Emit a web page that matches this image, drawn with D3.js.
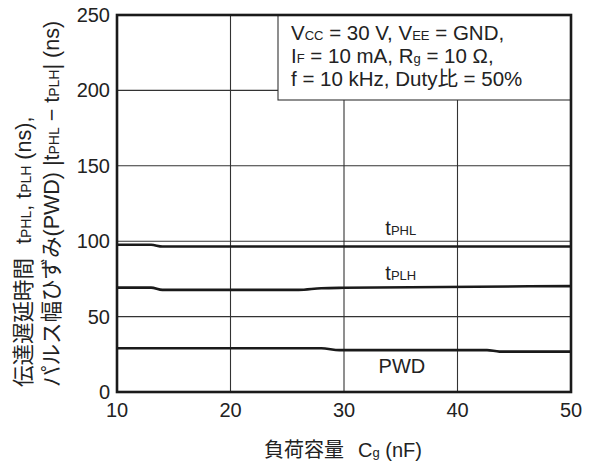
<!DOCTYPE html>
<html>
<head>
<meta charset="utf-8">
<style>
body { margin: 0; background: #fff; }
text { font-family: "Liberation Sans", Arial, "Noto Sans CJK JP", sans-serif; fill: #222; }
</style>
</head>
<body></body>
<script src="https://cdn.jsdelivr.net/npm/d3@7"></script>
<script>

// values
var tPHL = [[10, 97.6], [13, 97.6], [14, 96.5], [50, 96.5]];
var tPLH = [[10, 69.2], [13, 69.2], [14, 67.7], [26, 67.7], [28, 68.8], [30, 69.1], [50, 70.2]];
var PWD  = [[10, 29.0], [28, 29.0], [29.6, 27.8], [42.6, 27.8], [43.7, 26.8], [50, 26.8]];

var xTicks = [10, 20, 30, 40, 50];
var yTicks = [0, 50, 100, 150, 200, 250];

var W = 592, H = 468;
var pL = 117, pR = 571, pT = 15, pB = 392;

var svg = d3.select("body").append("svg")
    .attr("width", W).attr("height", H);

var x = d3.scaleLinear().domain([10, 50]).range([pL, pR]);
var y = d3.scaleLinear().domain([0, 250]).range([pB, pT]);

// text made of [string, small, dx] pieces, small ones sit on the baseline
function rich(g, parts, big, small) {
    parts.forEach(function(p) {
        g.append("tspan").text(p[0]).attr("font-size", p[1] ? small : big)
            .attr("dx", p[2] || null);
    });
    return g;
}

// grid
svg.append("g").selectAll("line").data(xTicks.slice(1, -1)).enter().append("line")
    .attr("x1", d => x(d)).attr("x2", d => x(d))
    .attr("y1", pT).attr("y2", pB)
    .attr("stroke", "#333").attr("stroke-width", 1.1);
svg.append("g").selectAll("line").data(yTicks.slice(1, -1)).enter().append("line")
    .attr("x1", pL).attr("x2", pR)
    .attr("y1", d => y(d)).attr("y2", d => y(d))
    .attr("stroke", "#333").attr("stroke-width", 1.1);

// tick labels
svg.append("g").selectAll("text").data(yTicks).enter().append("text")
    .attr("x", pL - 7).attr("y", d => y(d) + 7)
    .attr("text-anchor", "end").attr("font-size", 20)
    .text(d => d);
svg.append("g").selectAll("text").data(xTicks).enter().append("text")
    .attr("x", d => x(d)).attr("y", 417)
    .attr("text-anchor", "middle").attr("font-size", 20)
    .text(d => d);

// curves
var line = d3.line().x(d => x(d[0])).y(d => y(d[1])).curve(d3.curveMonotoneX);
[tPHL, tPLH, PWD].forEach(function(s) {
    svg.append("path").attr("d", line(s))
        .attr("fill", "none").attr("stroke", "#1a1a1a").attr("stroke-width", 2.6);
});

// curve labels
rich(svg.append("text").attr("x", x(35)).attr("y", 235).attr("text-anchor", "middle"),
    [["t", 0], ["PHL", 1]], 20, 13);
rich(svg.append("text").attr("x", x(35)).attr("y", 280).attr("text-anchor", "middle"),
    [["t", 0], ["PLH", 1]], 20, 13);
svg.append("text").attr("x", x(35.1)).attr("y", 373).attr("text-anchor", "middle")
    .attr("font-size", 20).text("PWD");

// condition box
svg.append("rect").attr("x", 278).attr("y", pT).attr("width", pR - 278).attr("height", 85)
    .attr("fill", "#fff").attr("stroke", "#333").attr("stroke-width", 1.1);
var cond = [
    [["V", 0], ["CC", 1], [" = 30 V, V", 0], ["EE", 1], [" = GND,", 0]],
    [["I", 0], ["F", 1], [" = 10 mA, R", 0], ["g", 1], [" = 10 Ω,", 0]],
    [["f = 10 kHz, Duty比 = 50%", 0]]
];
cond.forEach(function(c, i) {
    rich(svg.append("text").attr("x", 291).attr("y", 40 + i * 23), c, 20.5, 13);
});

// frame
svg.append("rect").attr("x", pL).attr("y", pT)
    .attr("width", pR - pL).attr("height", pB - pT)
    .attr("fill", "none").attr("stroke", "#1a1a1a").attr("stroke-width", 2.6);

// axis titles
rich(svg.append("text").attr("x", 343).attr("y", 457).attr("text-anchor", "middle"),
    [["負荷容量", 0], ["C", 0, 14], ["g", 1], [" (nF)", 0]], 20, 13);

rich(svg.append("text").attr("transform", "translate(31,387) rotate(-90)"),
    [["伝達遅延時間", 0], ["t", 0, 14], ["PHL", 1], [", t", 0], ["PLH", 1], [" (ns),", 0]], 21.5, 14);
rich(svg.append("text").attr("transform", "translate(59,387) rotate(-90)"),
    [["パルス幅ひずみ(PWD) |t", 0], ["PHL", 1], [" − t", 0], ["PLH", 1], ["| (ns)", 0]], 21.5, 14);

</script>
</html>
